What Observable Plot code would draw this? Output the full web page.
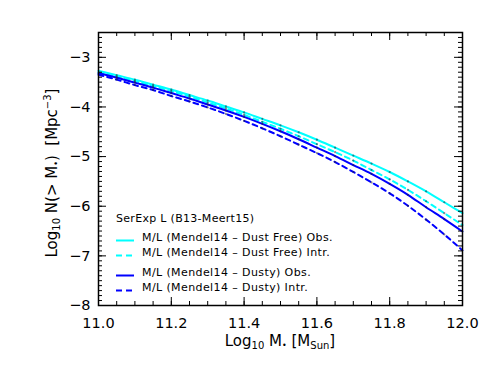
<!DOCTYPE html>
<html><head><meta charset="utf-8">
<script src="https://cdn.jsdelivr.net/npm/d3@7"></script>
<script src="https://cdn.jsdelivr.net/npm/@observablehq/plot@0.6"></script>
<style>body{margin:0;background:#fff}#chart{width:491px;height:368px}</style>
</head><body><div id="chart"></div>
<script>
const logMass = [11.0,11.05,11.1,11.15,11.2,11.25,11.3,11.35,11.4,11.45,11.5,11.55,11.6,11.65,11.7,11.75,11.8,11.85,11.9,11.95,12.0];
const dustFreeObs  = [-3.27,-3.36,-3.45,-3.55,-3.65,-3.76,-3.87,-3.99,-4.11,-4.24,-4.37,-4.51,-4.66,-4.82,-4.98,-5.14,-5.31,-5.50,-5.70,-5.92,-6.14];
const dustFreeIntr = [-3.30,-3.39,-3.48,-3.58,-3.68,-3.79,-3.91,-4.03,-4.16,-4.30,-4.44,-4.59,-4.75,-4.91,-5.08,-5.27,-5.46,-5.67,-5.90,-6.14,-6.38];
const dustyObs     = [-3.32,-3.41,-3.51,-3.61,-3.72,-3.83,-3.95,-4.07,-4.20,-4.34,-4.49,-4.65,-4.82,-4.99,-5.17,-5.35,-5.55,-5.77,-6.02,-6.26,-6.51];
const dustyIntr    = [-3.35,-3.45,-3.56,-3.66,-3.78,-3.89,-4.01,-4.14,-4.28,-4.43,-4.59,-4.76,-4.93,-5.11,-5.31,-5.52,-5.74,-5.99,-6.27,-6.57,-6.89];
const seriesLabels = ["M/L (Mendel14 \u2013 Dust Free) Obs.","M/L (Mendel14 \u2013 Dust Free) Intr.","M/L (Mendel14 \u2013 Dusty) Obs.","M/L (Mendel14 \u2013 Dusty) Intr."];
const legendTitle = "SerExp L (B13-Meert15)";
const xTicks = [11.0,11.2,11.4,11.6,11.8,12.0];
const yTicks = [-8,-7,-6,-5,-4,-3];

const W=491,H=368,mL=98,mR=29,mT=32,mB=63;
const pw=W-mL-mR, ph=H-mT-mB;
const xMinor=d3.range(0,21).map(i=>11+i*0.05);
const yMinor=d3.range(0,56).map(i=>-8+i*0.1);

const seriesValues=[dustFreeObs,dustFreeIntr,dustyObs,dustyIntr];
const styles=[{stroke:"#00ffff",dash:null},{stroke:"#00ffff",dash:"5,4"},{stroke:"#0000ff",dash:null},{stroke:"#0000ff",dash:"5,4"}];
const rows=seriesValues.map((vals,s)=>logMass.map((x,i)=>({x,y:vals[i],s})));
const allRows=rows.flat();
const markerRows=allRows.filter(d=>d.x>11.01&&d.x<11.99);

const font="DejaVu Sans, sans-serif";
const svg=Plot.plot({
  width:W,height:H,marginLeft:mL,marginRight:mR,marginTop:mT,marginBottom:mB,
  x:{domain:[11,12]}, y:{domain:[-8,-2.5]},
  style:{fontFamily:font,color:"black",background:"white"},
  marks:[
    ...rows.map((r,s)=>Plot.line(r,{x:"x",y:"y",stroke:styles[s].stroke,strokeWidth:2,strokeDasharray:styles[s].dash,curve:"monotone-x"})),
    Plot.dot(markerRows,{x:"x",y:"y",r:1.1,fill:"#223",fillOpacity:0.55}),
    Plot.tickX(xMinor,{x:d=>d,insetTop:ph-4,stroke:"black",strokeWidth:1}),
    Plot.tickX(xMinor,{x:d=>d,insetBottom:ph-4,stroke:"black",strokeWidth:1}),
    Plot.tickX(xTicks,{x:d=>d,insetTop:ph-8,stroke:"black",strokeWidth:1}),
    Plot.tickX(xTicks,{x:d=>d,insetBottom:ph-8,stroke:"black",strokeWidth:1}),
    Plot.tickY(yMinor,{y:d=>d,insetRight:pw-4,stroke:"black",strokeWidth:1}),
    Plot.tickY(yMinor,{y:d=>d,insetLeft:pw-4,stroke:"black",strokeWidth:1}),
    Plot.tickY(yTicks,{y:d=>d,insetRight:pw-8,stroke:"black",strokeWidth:1}),
    Plot.tickY(yTicks,{y:d=>d,insetLeft:pw-8,stroke:"black",strokeWidth:1}),
    Plot.frame({stroke:"black",strokeWidth:1.5}),
    Plot.axisX(xTicks,{tickSize:0,tickPadding:12,tickFormat:d=>d.toFixed(1),label:null,fontSize:14.5}),
    Plot.axisY(yTicks,{tickSize:0,tickPadding:8,tickFormat:d=>"\u2212"+Math.abs(d),label:null,fontSize:14.5})
  ]
});
document.getElementById("chart").appendChild(svg);

const g=d3.select(svg).append("g").attr("font-family",font).attr("fill","black").attr("text-anchor","start");
// x label
const xl=g.append("text").attr("x",280).attr("y",346).attr("text-anchor","middle").attr("font-size",15);
xl.append("tspan").text("Log");
xl.append("tspan").attr("font-size",10).attr("dy",3).text("10");
xl.append("tspan").attr("dy",-3).text(" M");
xl.append("tspan").attr("font-size",8).attr("dy",2).text("\u2022");
xl.append("tspan").attr("dy",-2).text(" [M");
xl.append("tspan").attr("font-size",10).attr("dy",3).text("Sun");
xl.append("tspan").attr("dy",-3).text("]");
// y label
const yl=g.append("text").attr("transform","translate(57,173) rotate(-90)").attr("text-anchor","middle").attr("font-size",15);
yl.append("tspan").text("Log");
yl.append("tspan").attr("font-size",10).attr("dy",3).text("10");
yl.append("tspan").attr("dy",-3).text(" N(> M");
yl.append("tspan").attr("font-size",8).attr("dy",2).text("\u2022");
yl.append("tspan").attr("dy",-2).text(")  [Mpc");
yl.append("tspan").attr("font-size",10).attr("dy",-6).text("\u22123");
yl.append("tspan").attr("dy",6).text("]");
// legend
g.append("text").attr("x",116).attr("y",221.5).attr("font-size",11).attr("letter-spacing",0.3).attr("text-anchor","start").text(legendTitle);
const rowY=[241,256,276,291];
seriesLabels.forEach((lab,i)=>{
  g.append("line").attr("x1",116).attr("x2",134).attr("y1",rowY[i]-0.5).attr("y2",rowY[i]-0.5)
    .attr("stroke",styles[i].stroke).attr("stroke-width",2).attr("stroke-dasharray",styles[i].dash?"6,4":null);
  g.append("text").attr("x",142).attr("y",rowY[i]).attr("font-size",11).attr("letter-spacing",0.4).attr("text-anchor","start").text(lab);
});
</script></body></html>
